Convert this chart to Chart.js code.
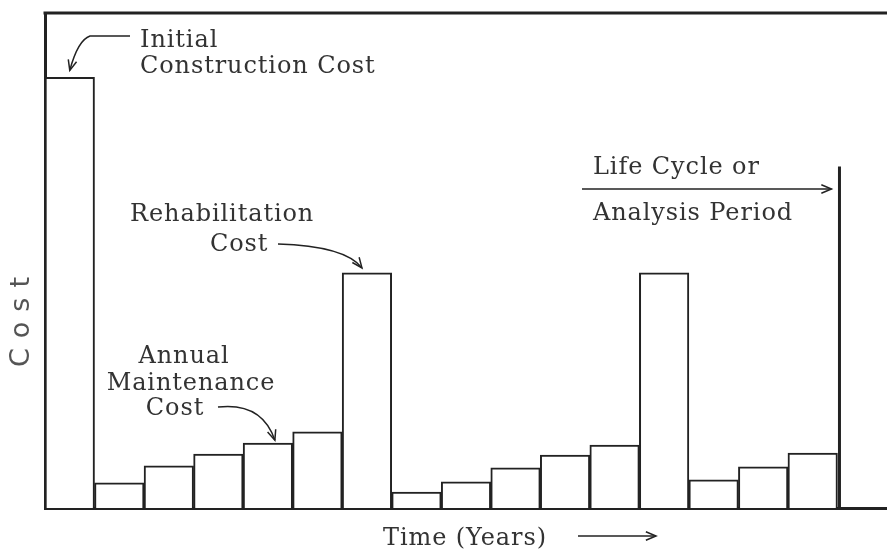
<!DOCTYPE html>
<html>
<head>
<meta charset="utf-8">
<script src="https://cdn.jsdelivr.net/npm/chart.js@4.4.1/dist/chart.umd.min.js"></script>
<style>
  body { margin: 0; background: #fff; }
  #wrap { width: 887px; height: 554px; position: relative; }
</style>
</head>
<body>
<div id="wrap"><canvas id="myChart"></canvas></div>
<script>
// years of the analysis period (last slot is past the end of the period)
const years = ['0', '1', '2', '3', '4', '5', '6', '7', '8', '9', '10', '11', '12', '13', '14', '15', '16'];
// cost in each year (relative units)
const costs = [87, 5.1, 8.5, 10.9, 13.1, 15.4, 47.5, 3.2, 5.3, 8.1, 10.7, 12.7, 47.5, 5.7, 8.3, 11.1, null];
const costMax = 100;
// end of the life cycle / analysis period (between year 15 and 16) and height of its marker
const analysisEnd = 15.5;
const analysisMarkerHeight = 69;

const ink = '#222';
const textFont = '24px "DejaVu Serif"';

function arrowHead(ctx, tipX, tipY, angle, size) {
    ctx.beginPath();
    ctx.moveTo(tipX - size * Math.cos(angle - 0.4), tipY - size * Math.sin(angle - 0.4));
    ctx.lineTo(tipX, tipY);
    ctx.lineTo(tipX - size * Math.cos(angle + 0.4), tipY - size * Math.sin(angle + 0.4));
    ctx.stroke();
}

const annotations = {
    id: 'annotations',
    afterDatasetsDraw(chart) {
        const { ctx, chartArea: a, scales: { x, y } } = chart;
        ctx.save();
        ctx.strokeStyle = ink;
        ctx.fillStyle = '#333';

        // top frame line
        ctx.lineWidth = 3;
        ctx.beginPath();
        ctx.moveTo(a.left - 1.5, a.top);
        ctx.lineTo(a.right, a.top);
        ctx.stroke();

        // life cycle marker
        const endX = (x.getPixelForValue(Math.floor(analysisEnd)) + x.getPixelForValue(Math.ceil(analysisEnd))) / 2 + 2;
        ctx.lineWidth = 3;
        ctx.beginPath();
        ctx.moveTo(endX, y.getPixelForValue(analysisMarkerHeight));
        ctx.lineTo(endX, a.bottom);
        ctx.stroke();

        ctx.font = textFont;
        ctx.letterSpacing = '0.9px';
        ctx.textBaseline = 'alphabetic';
        ctx.textAlign = 'left';

        // Initial construction cost
        ctx.fillText('Initial', 140, 47);
        ctx.fillText('Construction Cost', 140, 73);
        const t0x = x.getPixelForValue(0), t0y = y.getPixelForValue(costs[0]) - 7;
        ctx.lineWidth = 1.5;
        ctx.beginPath();
        ctx.moveTo(130, 36);
        ctx.lineTo(90, 36);
        ctx.quadraticCurveTo(78, 40, t0x, t0y);
        ctx.stroke();
        arrowHead(ctx, t0x, t0y, Math.atan2(t0y - 40, t0x - 78), 11);

        // Rehabilitation cost
        ctx.fillText('Rehabilitation', 130, 221);
        ctx.fillText('Cost', 210, 251);
        const r0x = x.getPixelForValue(6) - 5, r0y = y.getPixelForValue(costs[6]) - 5;
        ctx.beginPath();
        ctx.moveTo(278, 244);
        ctx.quadraticCurveTo(345, 246, r0x, r0y);
        ctx.stroke();
        arrowHead(ctx, r0x, r0y, Math.atan2(r0y - 246, r0x - 345), 11);

        // Annual maintenance cost
        ctx.textAlign = 'center';
        ctx.fillText('Annual', 184, 363);
        ctx.fillText('Maintenance', 191, 390);
        ctx.fillText('Cost', 175, 415);
        const m0x = x.getPixelForValue(4) + 7, m0y = y.getPixelForValue(costs[4]) - 3;
        ctx.beginPath();
        ctx.moveTo(218, 407);
        ctx.quadraticCurveTo(262, 402, m0x, m0y);
        ctx.stroke();
        arrowHead(ctx, m0x, m0y, Math.atan2(m0y - 402, m0x - 262), 11);

        // Life cycle or analysis period
        ctx.textAlign = 'left';
        ctx.fillText('Life Cycle or', 593, 174);
        ctx.fillText('Analysis Period', 593, 220);
        ctx.beginPath();
        ctx.moveTo(582, 189);
        ctx.lineTo(endX - 8, 189);
        ctx.stroke();
        arrowHead(ctx, endX - 8, 189, 0, 11);

        // x axis title + arrow
        ctx.textAlign = 'center';
        ctx.fillText('Time (Years)', 465, 545);
        ctx.beginPath();
        ctx.moveTo(578, 536);
        ctx.lineTo(656, 536);
        ctx.stroke();
        arrowHead(ctx, 656, 536, 0, 11);

        // y axis title (hand written)
        ctx.translate(22, 322);
        ctx.rotate(-Math.PI / 2);
        ctx.font = '27px "DejaVu Sans"';
        ctx.letterSpacing = '10px';
        ctx.textAlign = 'center';
        ctx.textBaseline = 'middle';
        ctx.fillStyle = '#555';
        ctx.fillText('Cost', 5, 0);
        ctx.restore();
    }
};

const ctx = document.getElementById('myChart');
new Chart(ctx, {
    type: 'bar',
    data: {
        labels: years,
        datasets: [{
            label: 'Cost',
            data: costs,
            backgroundColor: '#fff',
            borderColor: ink,
            borderWidth: 2,
            barPercentage: 1,
            categoryPercentage: 1
        }]
    },
    options: {
        responsive: true,
        maintainAspectRatio: false,
        animation: false,
        layout: { padding: { left: 45, top: 13, right: 0, bottom: 46 } },
        plugins: {
            legend: { display: false },
            tooltip: { enabled: false }
        },
        scales: {
            x: {
                ticks: { display: false },
                grid: { display: false, drawTicks: false },
                border: { display: true, color: ink, width: 3 }
            },
            y: {
                min: 0,
                max: costMax,
                ticks: { display: false },
                grid: { display: false, drawTicks: false },
                border: { display: true, color: ink, width: 3 }
            }
        }
    },
    plugins: [annotations]
});
</script>
</body>
</html>
